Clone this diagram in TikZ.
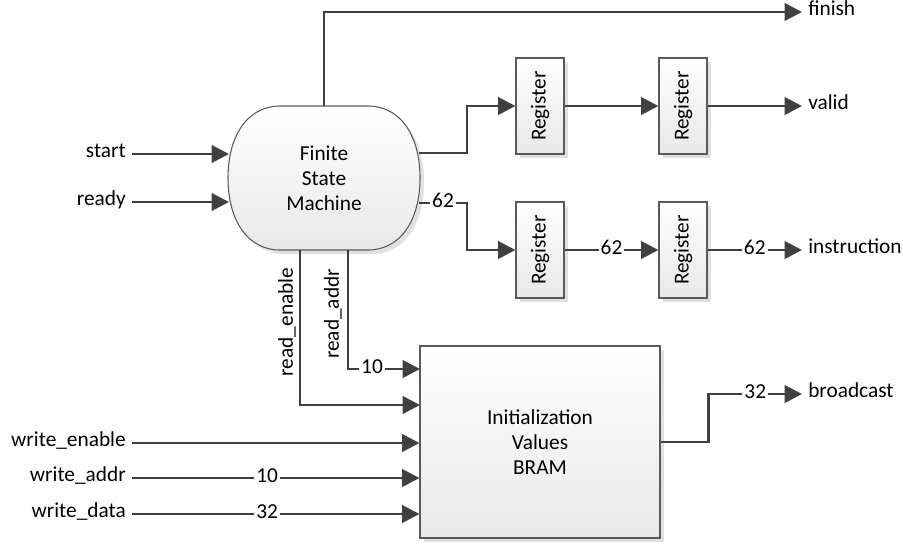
\documentclass[tikz,border=0pt]{standalone}
\usepackage{fontspec}
\setmainfont{Carlito}
\usetikzlibrary{arrows.meta,shadows,calc}
\definecolor{wirec}{HTML}{404040}
\definecolor{edgec}{HTML}{5A5A5A}
\begin{document}
\begin{tikzpicture}[x=0.75pt,y=-0.75pt,
  every node/.style={font=\fontsize{16}{18.75}\selectfont, text=black},
  wire/.style={draw=wirec, line width=2.2pt},
  arr/.style={wire, -{Triangle[length=13pt,width=13pt]}},
  boxsh/.style={drop shadow={shadow xshift=3pt,shadow yshift=-3pt,fill=black!12,opacity=1}},
  blk/.style={draw=edgec, line width=0.8pt, top color=white, bottom color=black!9, boxsh},
  reg/.style={blk, minimum width=36pt, minimum height=72pt, inner sep=0pt},
  sig/.style={inner xsep=4.5pt, inner ysep=0pt, text height=0.75em, text depth=0.25em},
  bus/.style={fill=white, inner xsep=1.5pt, inner ysep=0pt, text height=0.7em, text depth=0.1em},
]
\useasboundingbox (0,0) rectangle (903,543);

% Finite state machine shape
\path[blk] (280,106) -- (368,106) .. controls (400,106) and (420,135) .. (420,178)
  .. controls (420,221) and (400,250) .. (368,250) -- (280,250)
  .. controls (248,250) and (228,221) .. (228,178)
  .. controls (228,135) and (248,106) .. (280,106) -- cycle;
\node[minimum width=144pt, minimum height=108pt, inner sep=0pt, align=center] (fsm) at (324,178) {Finite\\State\\Machine};

% registers
\node[reg, label={[rotate=90]center:Register}] (r1) at (540,106) {};
\node[reg, label={[rotate=90]center:Register}] (r2) at (683,106) {};
\node[reg, label={[rotate=90]center:Register}] (r3) at (540,250) {};
\node[reg, label={[rotate=90]center:Register}] (r4) at (683,250) {};

% BRAM
\node[blk, minimum width=180pt, minimum height=144pt, align=center] (bram) at (540,442) {Initialization\\Values\\BRAM};

% FSM ports
\coordinate (fsmS) at (229,154);
\coordinate (fsmR) at (229,202);
\coordinate (fsmV) at (419,153);
\coordinate (fsmI) at (419,203);
\coordinate (fsmRE) at (300,250);
\coordinate (fsmRA) at (348,250);

% signal labels
\node[sig, anchor=east] (start) at (132,154) {start};
\node[sig, anchor=east] (ready) at (132,202) {ready};
\node[sig, anchor=east] (we) at (132,443) {write\_enable};
\node[sig, anchor=east] (wa) at (132,478) {write\_addr};
\node[sig, anchor=east] (wd) at (132,514) {write\_data};
\node[sig, anchor=west] (finish) at (802,12) {finish};
\node[sig, anchor=west] (valid) at (802,106) {valid};
\node[sig, anchor=west] (instr) at (802,250) {instruction};
\node[sig, anchor=west] (bc) at (802,394) {broadcast};
\node[rotate=90, inner sep=0pt] (rel) at (287,322) {read\_enable};
\node[rotate=90, inner sep=0pt] (ral) at (333,314) {read\_addr};

\coordinate (bramRA) at (420,369);
\coordinate (bramRE) at (420,405);

% wires
\draw[arr] (start.east) -- (fsmS);
\draw[arr] (ready.east) -- (fsmR);
\draw[arr] (fsm.north) |- (finish.west);
\draw[arr] (fsmV) -- ++(48,0) |- (r1.west);
\draw[arr] (r1.east) -- (r2.west);
\draw[arr] (r2.east) -- (valid.west);
\draw[arr] (fsmI) -- node[bus]{62} ++(48,0) |- (r3.west);
\draw[arr] (r3.east) -- node[bus]{62} (r4.west);
\draw[arr] (r4.east) -- node[bus]{62} (instr.west);
\draw[arr] (fsmRA) |- node[bus, pos=0.667]{10} (bramRA);
\draw[arr] (fsmRE) |- (bramRE);
\draw[arr] (we.east) -- (we.east -| bram.west);
\draw[arr] (wa.east) -- node[bus, pos=0.47]{10} (wa.east -| bram.west);
\draw[arr] (wd.east) -- node[bus, pos=0.47]{32} (wd.east -| bram.west);
\draw[arr] (bram.east) -- ++(48,0) |- node[bus, pos=0.75]{32} (bc.west);
\end{tikzpicture}
\end{document}
